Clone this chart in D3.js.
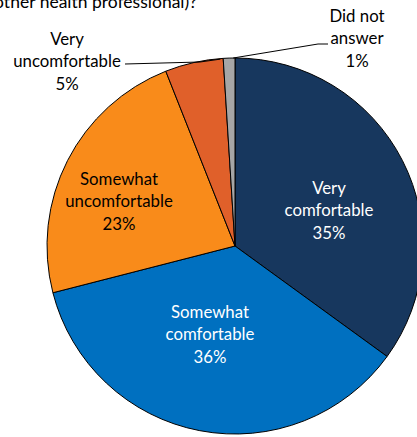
<!DOCTYPE html>
<html><head><meta charset="utf-8">
<script src="https://cdn.jsdelivr.net/npm/d3@7"></script>
<style>body{margin:0;background:#fff;overflow:hidden}svg{display:block}</style>
</head><body>
<script>
const categories = ["Very comfortable","Somewhat comfortable","Somewhat uncomfortable","Very uncomfortable","Did not answer"];
const values = [35, 36, 23, 5, 1];
const labelLines = [["Very","comfortable","35%"],["Somewhat","comfortable","36%"],["Somewhat","uncomfortable","23%"],["Very","uncomfortable","5%"],["Did not","answer","1%"]];
const colors = ["#17375E","#0070C0","#F98B1A","#E0602A","#A6A6A6"];
const textColors = ["#fff","#fff","#000","#000","#000"];
const titleText = "(or other health professional)?";

const W=417,H=437, cx=235, cy=246, R=188;
const svg=d3.select("body").append("svg").attr("width",W).attr("height",H);
const font="Lato, 'Open Sans', sans-serif";

svg.append("text").attr("x",197).attr("y",8).attr("text-anchor","end")
  .attr("font-family",font).attr("font-size",17.5).attr("fill","#000").text(titleText);

const pie=d3.pie().sort(null).value(d=>d)(values);
const arc=d3.arc().innerRadius(0).outerRadius(R);
const g=svg.append("g").attr("transform",`translate(${cx},${cy})`);
g.selectAll("path").data(pie).join("path").attr("d",arc)
  .attr("fill",(d,i)=>colors[i]).attr("stroke","#000").attr("stroke-width",1);

const labelPos=[[329,194],[210,318],[119,185],[67,45],[357,22]];
const lh=22.3;
labelPos.forEach((p,i)=>{
  const t=svg.append("text").attr("text-anchor","middle").attr("font-family",font)
    .attr("font-size",16.8).attr("fill",textColors[i]);
  labelLines[i].forEach((s,j)=>t.append("tspan").attr("x",p[0]).attr("y",p[1]+j*lh).text(s));
});

const leaderEnd=(i)=>{const a=pie[i].startAngle+(pie[i].endAngle-pie[i].startAngle)*0.85;return [cx+Math.sin(a)*R, cy-Math.cos(a)*R];};
const e3=leaderEnd(3), e4=leaderEnd(4);
svg.append("path").attr("d",`M125,64 L200,62 L${e3[0]+6},${e3[1]}`).attr("fill","none").attr("stroke","#000").attr("stroke-width",1);
svg.append("path").attr("d",`M328,44 L318,44 L${e4[0]},${e4[1]}`).attr("fill","none").attr("stroke","#000").attr("stroke-width",1);
</script>
</body></html>
